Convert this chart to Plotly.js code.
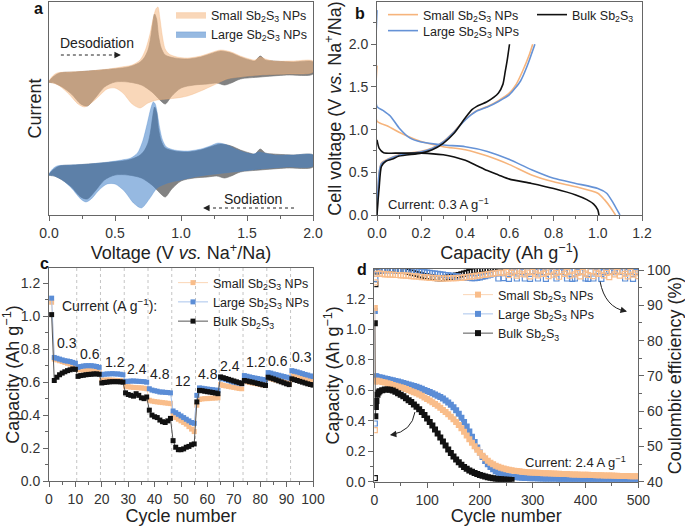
<!DOCTYPE html>
<html><head><meta charset="utf-8">
<script src="https://cdn.plot.ly/plotly-3.0.1.min.js"></script>
<style>html,body{margin:0;padding:0;background:#fff}#chart{width:685px;height:526px}</style>
</head><body><div id="chart"></div>
<script>
// ---------- Panel a : CV curves (current in a.u.) ----------
const grayUpV = [0,0.03,0.08,0.2,0.4,0.6,0.68,0.72,0.75,0.77,0.785,0.80,0.815,0.83,0.85,0.88,0.95,1.05,1.15,1.22,1.3,1.38,1.45,1.52,1.56,1.6,1.64,1.7,1.85,2.0];
const grayUpI = [0,5,9,10,12,15,19,24,32,44,58,68,63,46,34,27,24,23,25,28,31,29,25,22,21,26,22,21,20,20];
const grayLowV = [2.0,1.8,1.6,1.45,1.38,1.33,1.27,1.2,1.1,1.0,0.93,0.88,0.84,0.78,0.7,0.6,0.5,0.42,0.35,0.29,0.24,0.17,0.1,0.04,0.0];
const grayLowI = [8,7,5,3,-1,-3,-1,-2,-3,-6,-14,-22,-18,-10,-3,0,0,-5,-16,-24,-22,-12,-5,-1,0];
const largeUpV = [0,0.02,0.06,0.15,0.3,0.45,0.55,0.62,0.67,0.71,0.745,0.77,0.79,0.805,0.82,0.84,0.86,0.89,0.95,1.05,1.15,1.22,1.28,1.35,1.43,1.5,1.55,1.59,1.63,1.7,1.85,2.0];
const largeUpI = [0,5,9,10,11,13,15,17,22,34,52,66,73,71,62,46,35,28,25,24,26,29,32,30,25,22,21,23,22,20,20,20];
const largeLowV = [2.0,1.8,1.6,1.4,1.2,1.1,1.0,0.9,0.82,0.76,0.7,0.64,0.57,0.5,0.44,0.38,0.32,0.28,0.24,0.17,0.1,0.04,0.0];
const largeLowI = [9,8,6,3,0,-2,-5,-8,-13,-24,-33,-28,-16,-9,-9,-15,-24,-27,-24,-13,-5,-1,0];
const smallUpV = [0,0.02,0.06,0.15,0.3,0.45,0.55,0.63,0.69,0.73,0.765,0.79,0.81,0.825,0.84,0.86,0.88,0.91,0.97,1.05,1.15,1.22,1.3,1.38,1.45,1.52,1.56,1.6,1.64,1.7,1.85,2.0];
const smallUpI = [0,5,9,10,11,13,15,17,22,32,48,64,73,75,64,45,33,28,25,24,26,29,32,30,26,23,22,25,23,21,21,21];
const smallLowV = [2.0,1.8,1.6,1.45,1.35,1.25,1.15,1.05,0.97,0.9,0.82,0.75,0.69,0.63,0.56,0.5,0.44,0.38,0.32,0.27,0.22,0.15,0.08,0.03,0.0];
const smallLowI = [10,8,7,5,3,-3,-9,-14,-16,-17,-18,-21,-26,-22,-11,-6,-7,-14,-21,-25,-22,-12,-4,-1,0];
const topOffset = 93;

// ---------- Panel b : charge / discharge profiles ----------
const bSmallChgC = [0,0.002,0.005,0.01,0.02,0.05,0.1,0.2,0.25,0.3,0.35,0.4,0.45,0.5,0.55,0.6,0.63,0.66,0.69,0.705];
const bSmallChgV = [0,0.15,0.33,0.5,0.61,0.655,0.705,0.745,0.785,0.86,0.98,1.12,1.22,1.27,1.34,1.43,1.53,1.69,1.88,2.0];
const bSmallDisC = [0,0,0.05,0.1,0.2,0.3,0.4,0.5,0.6,0.7,0.8,0.9,1.0,1.03,1.06,1.08];
const bSmallDisV = [1.75,1.1,1.04,0.97,0.86,0.80,0.765,0.69,0.59,0.47,0.39,0.33,0.255,0.18,0.08,0];
const bLargeChgC = [0,0.002,0.005,0.01,0.02,0.05,0.1,0.2,0.25,0.3,0.35,0.4,0.45,0.5,0.55,0.6,0.65,0.68,0.715];
const bLargeChgV = [0,0.15,0.33,0.5,0.6,0.65,0.70,0.74,0.78,0.855,0.975,1.115,1.215,1.265,1.33,1.41,1.57,1.745,2.0];
const bLargeDisC = [0,0,0.03,0.06,0.1,0.15,0.2,0.3,0.4,0.5,0.6,0.7,0.8,0.9,1.0,1.04,1.07,1.1];
const bLargeDisV = [2.4,1.27,1.22,1.16,1.02,0.90,0.855,0.82,0.80,0.745,0.65,0.53,0.43,0.37,0.31,0.255,0.14,0];
const bBulkChgC = [0,0.005,0.01,0.02,0.04,0.07,0.1,0.2,0.25,0.3,0.35,0.4,0.43,0.45,0.5,0.55,0.57,0.58,0.59,0.6];
const bBulkChgV = [0,0.18,0.33,0.57,0.63,0.655,0.69,0.725,0.765,0.84,0.96,1.14,1.235,1.27,1.33,1.43,1.53,1.67,1.82,2.0];
const bBulkDisC = [0,0.01,0.03,0.1,0.2,0.3,0.35,0.4,0.45,0.5,0.55,0.6,0.7,0.8,0.9,0.95,0.98,1.0,1.005];
const bBulkDisV = [0.88,0.78,0.73,0.725,0.725,0.705,0.68,0.64,0.58,0.52,0.47,0.42,0.37,0.31,0.235,0.18,0.13,0.06,0];

// ---------- Panel c : rate capability (cycles 1..100) ----------
const cSmall = [1.085,
 0.74,0.735,0.73,0.725,0.72,0.715,0.71,0.705,0.70,
 0.675,0.675,0.674,0.673,0.672,0.67,0.668,0.665,0.662,
 0.612,0.612,0.613,0.613,0.612,0.611,0.61,0.609,0.607,
 0.575,0.572,0.57,0.568,0.567,0.566,0.565,0.563,0.56,
 0.49,0.485,0.482,0.48,0.478,0.476,0.474,0.472,0.47,
 0.40,0.385,0.375,0.365,0.355,0.345,0.33,0.315,0.30,
 0.46,0.495,0.498,0.50,0.50,0.502,0.503,0.504,0.505,
 0.585,0.58,0.577,0.574,0.571,0.568,0.565,0.562,0.56,
 0.605,0.602,0.598,0.595,0.592,0.589,0.586,0.583,0.58,
 0.625,0.621,0.617,0.613,0.609,0.605,0.601,0.597,0.593,
 0.64,0.636,0.632,0.628,0.624,0.62,0.616,0.612,0.608];
const cLarge = [1.11,
 0.75,0.745,0.74,0.735,0.73,0.728,0.725,0.72,0.715,
 0.69,0.695,0.698,0.70,0.70,0.70,0.698,0.695,0.69,
 0.645,0.648,0.65,0.65,0.652,0.65,0.65,0.648,0.645,
 0.605,0.605,0.607,0.607,0.606,0.605,0.604,0.603,0.60,
 0.56,0.552,0.548,0.545,0.54,0.54,0.538,0.537,0.535,
 0.425,0.415,0.405,0.395,0.385,0.375,0.365,0.355,0.35,
 0.52,0.565,0.563,0.56,0.558,0.556,0.554,0.552,0.55,
 0.625,0.62,0.615,0.61,0.605,0.60,0.597,0.594,0.59,
 0.64,0.636,0.632,0.628,0.625,0.622,0.619,0.616,0.612,
 0.658,0.655,0.65,0.646,0.642,0.638,0.634,0.63,0.625,
 0.67,0.666,0.662,0.657,0.652,0.647,0.643,0.638,0.634];
const cBulk = [1.01,
 0.61,0.63,0.645,0.655,0.663,0.67,0.675,0.68,0.678,
 0.635,0.64,0.642,0.645,0.647,0.648,0.65,0.65,0.648,
 0.595,0.598,0.60,0.602,0.603,0.603,0.603,0.602,0.60,
 0.535,0.525,0.52,0.515,0.53,0.52,0.505,0.50,0.51,
 0.43,0.40,0.39,0.385,0.37,0.36,0.355,0.365,0.38,
 0.245,0.205,0.19,0.19,0.195,0.205,0.21,0.22,0.225,
 0.48,0.55,0.548,0.545,0.542,0.54,0.537,0.534,0.53,
 0.632,0.627,0.622,0.617,0.612,0.607,0.602,0.597,0.592,
 0.61,0.607,0.603,0.60,0.596,0.592,0.588,0.584,0.58,
 0.63,0.625,0.62,0.614,0.608,0.602,0.596,0.59,0.585,
 0.62,0.615,0.61,0.605,0.60,0.595,0.59,0.586,0.582];
const cRateBoundaries = [10.5,19.5,28.5,37.5,46.5,55.5,64.5,73.5,82.5,91.5];
const cRateLabels = ['0.3','0.6','1.2','2.4','4.8','12','4.8','2.4','1.2','0.6','0.3'];

// ---------- Panel d : long cycling at 2.4 A/g ----------
const dHead = [1,2,3];
const dSmallCap = [1.14,0.655,0.662,
 0.662,0.658,0.654,0.65,0.645,0.64,0.635,0.63,0.625,0.619,
 0.614,0.608,0.601,0.594,0.587,0.58,0.572,0.563,0.553,0.543,
 0.532,0.521,0.51,0.498,0.485,0.471,0.457,0.442,0.426,0.41,
 0.392,0.372,0.35,0.327,0.303,0.278,0.255,0.232,0.21,0.19,
 0.17,0.153,0.138,0.125,0.114,0.105,0.098,0.092,0.087,0.082,
 0.078,0.075,0.072,0.07,0.068,0.066,0.064,0.062,0.061,0.06,
 0.059,0.058,0.057,0.056,0.055,0.055,0.054,0.053,0.052,0.052,
 0.051,0.05,0.05,0.049,0.048,0.048,0.047,0.046,0.046,0.045,
 0.045,0.044,0.044,0.043,0.042,0.042,0.041,0.041,0.04,0.04,
 0.039,0.039,0.038,0.038,0.037,0.037,0.036,0.036,0.035,0.035];
const dLargeCap = [1.12,0.69,0.692,
 0.688,0.685,0.681,0.677,0.673,0.669,0.665,0.661,0.657,0.652,
 0.648,0.643,0.638,0.633,0.628,0.622,0.616,0.609,0.602,0.595,
 0.588,0.58,0.572,0.564,0.555,0.545,0.533,0.52,0.505,0.488,
 0.468,0.445,0.42,0.392,0.362,0.33,0.295,0.26,0.225,0.192,
 0.162,0.136,0.114,0.096,0.081,0.069,0.059,0.051,0.045,0.04,
 0.036,0.033,0.031,0.029,0.027,0.026,0.025,0.024,0.023,0.022,
 0.022,0.021,0.021,0.02,0.02,0.02,0.019,0.019,0.019,0.018,
 0.018,0.018,0.017,0.017,0.017,0.016,0.016,0.016,0.015,0.015,
 0.015,0.014,0.014,0.014,0.013,0.013,0.013,0.012,0.012,0.012,
 0.012,0.011,0.011,0.011,0.011,0.01,0.01,0.01,0.01,0.01];
const dBulkHead = [1,2,3,4,6,8];
const dBulkCap = [1.04,0.43,0.49,0.53,0.57,0.585,
 0.593,0.6,0.604,0.605,0.603,0.598,0.59,0.58,0.57,0.56,
 0.548,0.535,0.522,0.507,0.492,0.475,0.457,0.437,0.415,0.392,
 0.368,0.342,0.316,0.29,0.263,0.237,0.212,0.188,0.165,0.145,
 0.127,0.111,0.097,0.085,0.074,0.065,0.057,0.05,0.044,0.039,
 0.034,0.03,0.026,0.023,0.02,0.018,0.016,0.014,0.013,0.012,0.011];
const dCEHead = [1,2];
const dSmallCE = [54.6,96.5,
 98.9,99.0,98.9,98.8,98.8,98.7,98.7,98.6,98.6,98.5,
 98.5,98.4,98.4,98.3,98.2,98.2,98.1,98.0,98.0,97.9,
 97.8,97.8,97.7,97.7,97.6,97.6,97.6,97.6,97.7,97.7,
 97.7,97.8,97.8,97.9,98.0,98.1,98.2,98.3,98.4,98.5,
 98.6,98.7,98.8,98.9,99.0,99.1,99.2,99.3,99.1,
 99.5,98.6,99.2,99.6,98.4,99.0,99.7,98.8,99.3,98.2,
 99.5,99.0,98.5,99.8,98.9,99.3,98.3,99.6,98.7,99.2,
 98.1,99.7,98.9,99.4,98.4,99.8,98.8,99.2,98.2,99.5,
 99.0,98.6,99.7,98.3,99.3,98.9,99.8,98.5,99.2,98.0,
 99.6,98.8,99.4,98.4,99.7,98.9,98.2,99.5,98.7,99.1,
 98.3];
const dLargeCE = [56.5,97.5,
 99.9,100.0,100.0,99.9,100.0,99.9,100.0,99.9,99.9,99.9,
 99.9,99.8,99.8,99.8,99.7,99.7,99.6,99.5,99.4,99.3,
 99.2,99.1,99.0,98.9,98.8,98.7,98.6,98.5,98.4,98.3,
 98.2,98.1,98.0,97.9,97.8,97.8,97.7,97.7,97.8,97.9,
 98.1,98.3,98.5,98.7,98.9,99.1,97.6,99.3,97.7,
 99.5,97.5,99.6,99.4,97.6,99.7,99.5,97.6,99.6,97.5,
 99.7,99.5,97.6,99.6,99.4,97.5,99.7,99.5,99.6,97.6,
 99.5,99.7,99.4,97.6,99.6,97.5,97.6,99.5,99.7,99.4,
 97.6,97.5,99.6,97.6,99.5,99.7,97.5,99.4,99.6,99.5,
 99.7,99.4,99.6,99.5,99.7,97.6,99.4,99.6,97.5,99.5,
 99.6];
const dBulkCE = [41,96,
 99.6,99.8,100.0,100.1,100.1,100.2,100.1,100.0,100.0,99.9,99.8,99.7,
 99.5,99.3,99.1,98.9,98.7,98.5,98.3,98.2,
 98.0,97.9,97.8,97.7,97.7,97.7,97.8,97.9,98.0,98.2,
 98.4,98.6,98.8,99.0,99.2,99.4,99.6,99.8,99.9,100.0,
 100.1,100.2,100.3,100.4,100.5,100.6,100.7,100.8,100.9,101.0,101.1,101.2];

// ---------- helpers ----------
function every(start, step, n){ const a=[]; for(let i=0;i<n;i++) a.push(start+i*step); return a; }
const cCycles = every(1,1,100);
const dCapCycles = dHead.concat(every(5,5,100));
const dBulkCycles = dBulkHead.concat(every(10,5,51));
const dCECycles = dCEHead.concat(every(5,5,100));
const dBulkCECycles = dCEHead.concat(every(5,5,52));

const FONT = 'Liberation Sans, Arial, sans-serif';
const OR_FILL='rgba(245,183,130,0.56)', BL_FILL='rgba(64,127,200,0.55)', GR_FILL='rgb(130,130,130)';
const OR='#f9bd8a', OR_L='#fbd6b6', BL='#5b8dd6', BL_L='#a9c4ec', BK='#111', BK_L='#555';
const sb = 'Sb<sub>2</sub>S<sub>3</sub>';

const traces = [];
function loop(upV, upI, lowV, lowI, off){
  return {x: upV.concat(lowV), y: upI.concat(lowI).map(v=>v+off)};
}
let L = loop(grayUpV, grayUpI, grayLowV, grayLowI, topOffset);
traces.push({type:'scatter', mode:'lines', x:L.x, y:L.y, fill:'toself', fillcolor:GR_FILL, line:{color:'#707070', width:0.6, shape:'spline', smoothing:0.8}, showlegend:false, hoverinfo:'skip', xaxis:'x', yaxis:'y'});
L = loop(smallUpV, smallUpI, smallLowV, smallLowI, topOffset);
traces.push({type:'scatter', mode:'lines', name:'Small '+sb+' NPs', x:L.x, y:L.y, fill:'toself', fillcolor:OR_FILL, line:{color:'rgba(240,170,110,0.5)', width:0.6, shape:'spline', smoothing:0.8}, legend:'legend', xaxis:'x', yaxis:'y'});
L = loop(grayUpV, grayUpI, grayLowV, grayLowI, 0);
traces.push({type:'scatter', mode:'lines', x:L.x, y:L.y, fill:'toself', fillcolor:GR_FILL, line:{color:'#707070', width:0.6, shape:'spline', smoothing:0.8}, showlegend:false, hoverinfo:'skip', xaxis:'x', yaxis:'y'});
L = loop(largeUpV, largeUpI, largeLowV, largeLowI, 0);
traces.push({type:'scatter', mode:'lines', name:'Large '+sb+' NPs', x:L.x, y:L.y, fill:'toself', fillcolor:BL_FILL, line:{color:'rgba(70,130,200,0.5)', width:0.6, shape:'spline', smoothing:0.8}, legend:'legend', xaxis:'x', yaxis:'y'});

// panel b
function prof(cc, cv, dc, dv){ return {x: cc.concat([null], dc), y: cv.concat([null], dv)}; }
let P = prof(bSmallChgC,bSmallChgV,bSmallDisC,bSmallDisV);
traces.push({type:'scatter', mode:'lines', name:'Small '+sb+' NPs', x:P.x, y:P.y, line:{color:'#f6b47c', width:1.6, shape:'spline', smoothing:0.6}, legend:'legend2', xaxis:'x2', yaxis:'y2'});
P = prof(bLargeChgC,bLargeChgV,bLargeDisC,bLargeDisV);
traces.push({type:'scatter', mode:'lines', name:'Large '+sb+' NPs', x:P.x, y:P.y, line:{color:'#6592d6', width:1.6, shape:'spline', smoothing:0.6}, legend:'legend3', xaxis:'x2', yaxis:'y2'});
P = prof(bBulkChgC,bBulkChgV,bBulkDisC,bBulkDisV);
traces.push({type:'scatter', mode:'lines', name:'Bulk '+sb, x:P.x, y:P.y, line:{color:BK, width:1.6, shape:'spline', smoothing:0.6}, legend:'legend6', xaxis:'x2', yaxis:'y2'});

// panel c
traces.push({type:'scatter', mode:'lines+markers', name:'Small '+sb+' NPs', x:cCycles, y:cSmall, line:{color:OR_L, width:1}, marker:{symbol:'square', size:5, color:OR}, legend:'legend4', xaxis:'x3', yaxis:'y3'});
traces.push({type:'scatter', mode:'lines+markers', name:'Large '+sb+' NPs', x:cCycles, y:cLarge, line:{color:BL_L, width:1}, marker:{symbol:'square', size:5, color:BL}, legend:'legend4', xaxis:'x3', yaxis:'y3'});
traces.push({type:'scatter', mode:'lines+markers', name:'Bulk '+sb, x:cCycles, y:cBulk, line:{color:BK_L, width:1}, marker:{symbol:'square', size:5, color:BK}, legend:'legend4', xaxis:'x3', yaxis:'y3'});

// panel d
traces.push({type:'scatter', mode:'markers', x:dBulkCECycles, y:dBulkCE, marker:{symbol:'square-open', size:5, color:BK, line:{width:1.2}}, showlegend:false, xaxis:'x4', yaxis:'y5'});
traces.push({type:'scatter', mode:'markers', x:dCECycles, y:dLargeCE, marker:{symbol:'square-open', size:5, color:BL, line:{width:1.2}}, showlegend:false, xaxis:'x4', yaxis:'y5'});
traces.push({type:'scatter', mode:'markers', x:dCECycles, y:dSmallCE, marker:{symbol:'square-open', size:5, color:OR, line:{width:1.2}}, showlegend:false, xaxis:'x4', yaxis:'y5'});
traces.push({type:'scatter', mode:'lines+markers', name:'Large '+sb+' NPs', legendrank:2, x:dCapCycles, y:dLargeCap, line:{color:BL_L, width:1}, marker:{symbol:'square', size:6, color:BL}, legend:'legend5', xaxis:'x4', yaxis:'y4'});
traces.push({type:'scatter', mode:'lines+markers', name:'Small '+sb+' NPs', legendrank:1, x:dCapCycles, y:dSmallCap, line:{color:OR_L, width:1}, marker:{symbol:'square', size:6, color:OR}, legend:'legend5', xaxis:'x4', yaxis:'y4'});
traces.push({type:'scatter', mode:'lines+markers', name:'Bulk '+sb, legendrank:3, x:dBulkCycles, y:dBulkCap, line:{color:BK_L, width:1}, marker:{symbol:'square', size:6, color:BK}, legend:'legend5', xaxis:'x4', yaxis:'y4'});

function ax(o){
  const base = {showline:true, linecolor:'#666', linewidth:1, mirror:true, ticks:'outside', ticklen:5, tickwidth:1, tickcolor:'#666',
    tickfont:{size:14, color:'#333'}, showgrid:false, zeroline:false};
  return Object.assign(base, o);
}
const mn = (d)=>({dtick:d, ticks:'outside', ticklen:3, tickcolor:'#666', showgrid:false});
const tf = (t, s)=>({text:t, font:{size:18, color:'#222'}, standoff:s});

const dA = [49/685, 313/685], dB = [377/685, 642/685], dC = [49/685, 313/685], dD = [374.3/685, 638.3/685];
const yTop = [1-215/526, 1-2/526], yBot = [1-481/526, 1-268/526], yBotD = [1-481.7/526, 1-269/526];

const shapes = [];
cRateBoundaries.forEach(b=>shapes.push({type:'line', xref:'x3', yref:'y3 domain', x0:b, x1:b, y0:0, y1:1, line:{color:'#b5b5b5', width:0.8, dash:'3px,3px'}, layer:'below'}));
shapes.push({type:'line', xref:'x', yref:'y', x0:0.09, x1:0.50, y0:120, y1:120, line:{color:'#222', width:1, dash:'dot'}});
shapes.push({type:'line', xref:'x', yref:'y', x0:1.856, x1:1.22, y0:-33, y1:-33, line:{color:'#222', width:1, dash:'dot'}});
shapes.push({type:'path', xref:'x4', yref:'y4', path:'M 427.5,1.314 Q 436.9,1.143 476,1.118', line:{color:'#222', width:1}});
shapes.push({type:'path', xref:'x4', yref:'y4', path:'M 77,0.457 Q 71.3,0.33 32,0.308', line:{color:'#222', width:1}});

const ann = [];
function head(xr, yr, x, y, axp, ayp){ ann.push({xref:xr, yref:yr, x:x, y:y, ax:axp, ay:ayp, text:'', showarrow:true, arrowhead:2, arrowsize:1.3, arrowwidth:1, arrowcolor:'#222'}); }
head('x','y',0.545,120,-8,0);
head('x','y',1.167,-33,8,0);
head('x4','y4',478.6,1.116,-8,-2);
head('x4','y4',29.5,0.307,8,-1);
function txt(xr,yr,x,y,t,size,xa){ ann.push({xref:xr,yref:yr,x:x,y:y,text:t,showarrow:false,font:{size:size,color:'#222'},xanchor:xa||'center',yanchor:'middle'}); }
txt('x','y',0.068,132,'Desodiation',14,'left');
txt('x','y',1.545,-24,'Sodiation',14,'center');
txt('x2','y2',0.041,0.13,'Current: 0.3 A g<sup>−1</sup>',13,'left');
txt('x3','y3',4.2,1.07,'Current (A g<sup>−1</sup>):',14,'left');
const cLabX = [6.7,15.5,25,33.4,42,50.8,60.3,68.5,78.3,86.8,96];
const cLabY = [0.84,0.77,0.72,0.68,0.65,0.61,0.65,0.70,0.72,0.73,0.75];
cRateLabels.forEach((t,i)=>txt('x3','y3',cLabX[i],cLabY[i],t,14,'center'));
txt('x4','y4',480,0.13,'Current: 2.4 A g<sup>−1</sup>',13,'right');
function lab(px,py,t){ ann.push({xref:'paper',yref:'paper',x:px/685,y:1-py/526,text:'<b>'+t+'</b>',showarrow:false,font:{size:16,color:'#111'},xanchor:'center',yanchor:'middle'}); }
lab(38,9,'a'); lab(360,13,'b'); lab(44,263,'c'); lab(362,269,'d');

const lg = (x,y)=>({x:x, y:y, xanchor:'left', yanchor:'top', bgcolor:'rgba(0,0,0,0)', borderwidth:0, font:{size:12.5, color:'#222'}, itemwidth:30, tracegroupgap:0});

const layout = {
  width:685, height:526, margin:{l:0,r:0,t:0,b:0}, paper_bgcolor:'#fff', plot_bgcolor:'#fff',
  font:{family:FONT, size:14, color:'#222'}, showlegend:true,
  xaxis: ax({domain:dA, anchor:'y', range:[0,2], dtick:0.5, tick0:0, tickformat:'.1f', minor:mn(0.25), title:tf('Voltage (V <i>vs.</i> Na<sup>+</sup>/Na)',4)}),
  yaxis: ax({domain:yTop, anchor:'x', range:[-40,173], showticklabels:false, ticks:'', title:tf('Current',1)}),
  xaxis2: ax({domain:dB, anchor:'y2', range:[0,1.2], dtick:0.2, tick0:0, tickformat:'.1f', minor:mn(0.1), title:tf('Capacity (Ah g<sup>−1</sup>)',4)}),
  yaxis2: ax({domain:yTop, anchor:'x2', range:[0,2.495], dtick:0.5, tick0:0, tickformat:'.1f', minor:mn(0.25), title:tf('Cell voltage (V <i>vs.</i> Na<sup>+</sup>/Na)',2)}),
  xaxis3: ax({domain:dC, anchor:'y3', range:[0,100], dtick:10, tick0:0, minor:mn(5), title:tf('Cycle number',3)}),
  yaxis3: ax({domain:yBot, anchor:'x3', range:[0,1.293], dtick:0.2, tick0:0, tickformat:'.1f', minor:mn(0.1), title:tf('Capacity (Ah g<sup>−1</sup>)',5)}),
  xaxis4: ax({domain:dD, anchor:'y4', range:[0,500], dtick:100, tick0:0, minor:mn(50), title:tf('Cycle number',3)}),
  yaxis4: ax({domain:yBotD, anchor:'x4', range:[0,1.395], dtick:0.2, tick0:0, tickformat:'.1f', minor:mn(0.1), mirror:false, title:tf('Capacity (Ah g<sup>−1</sup>)',1)}),
  yaxis5: ax({overlaying:'y4', side:'right', anchor:'x4', range:[40,100.3], dtick:10, tick0:40, minor:mn(5), mirror:false, title:tf('Coulombic efficiency (%)',2)}),
  legend: lg(171/685, 1.0),
  legend2: lg(383/685, 1.0),
  legend3: lg(383/685, 1-16/526),
  legend6: lg(532/685, 1.0),
  legend4: lg(173/685, 1-268/526),
  legend5: lg(458/685, 1-280/526),
  shapes: shapes, annotations: ann
};
Plotly.newPlot('chart', traces, layout, {staticPlot:true, displayModeBar:false});
</script></body></html>
